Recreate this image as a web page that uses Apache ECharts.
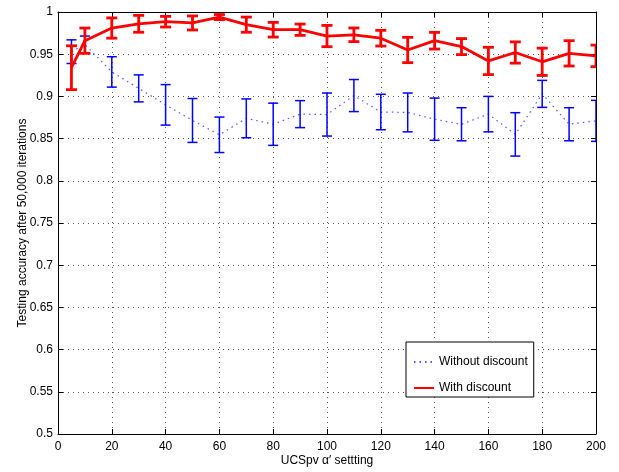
<!DOCTYPE html>
<html>
<head>
<meta charset="utf-8">
<script src="https://cdn.jsdelivr.net/npm/echarts@6/dist/echarts.min.js"></script>
<style>
  html, body { margin: 0; padding: 0; background: #fff; }
  #chart { width: 619px; height: 472px; }
</style>
</head>
<body>
<div id="chart"></div>
<script>
// UCSpv alpha' settings tested
const alphaSetting = [5, 10, 20, 30, 40, 50, 60, 70, 80, 90, 100, 110, 120, 130, 140, 150, 160, 170, 180, 190, 200];

// Mean testing accuracy and error half-widths, with discount
const withDiscount = [0.934, 0.966, 0.981, 0.986, 0.9885, 0.987, 0.994, 0.985, 0.979, 0.979, 0.9715, 0.973, 0.969, 0.955, 0.966, 0.959, 0.942, 0.952, 0.941, 0.951, 0.948];
const withDiscountErr = [0.026, 0.015, 0.012, 0.010, 0.0063, 0.0083, 0.003, 0.009, 0.0087, 0.0067, 0.0126, 0.0081, 0.0093, 0.015, 0.0099, 0.0095, 0.0162, 0.0126, 0.0162, 0.015, 0.0128];

// Mean testing accuracy and error half-widths, without discount
const withoutDiscount = [0.953, 0.9615, 0.929, 0.9095, 0.890, 0.8715, 0.8545, 0.874, 0.867, 0.879, 0.8785, 0.901, 0.8815, 0.881, 0.873, 0.867, 0.879, 0.855, 0.903, 0.867, 0.871];
const withoutDiscountErr = [0.014, 0.010, 0.018, 0.016, 0.024, 0.026, 0.021, 0.023, 0.025, 0.016, 0.0255, 0.019, 0.021, 0.023, 0.025, 0.0196, 0.021, 0.0257, 0.016, 0.0196, 0.0243];

const xTicks = { min: 0, max: 200, interval: 20 };
const yTicks = { min: 0.5, max: 1, interval: 0.05 };

const FONT = 'Liberation Sans, Arial, Helvetica, sans-serif';

const points = (means) => alphaSetting.map((x, i) => [x, means[i]]);
const ranges = (means, errs) => alphaSetting.map((x, i) => [x, means[i] - errs[i], means[i] + errs[i]]);

function errorBarRenderer(color, width, capHalf) {
  return function (params, api) {
    const x = api.value(0);
    const lo = api.coord([x, api.value(1)]);
    const hi = api.coord([x, api.value(2)]);
    const style = { stroke: color, lineWidth: width, fill: null };
    return {
      type: 'group',
      children: [
        { type: 'line', shape: { x1: lo[0], y1: lo[1], x2: hi[0], y2: hi[1] }, style },
        { type: 'line', shape: { x1: hi[0] - capHalf, y1: hi[1], x2: hi[0] + capHalf, y2: hi[1] }, style },
        { type: 'line', shape: { x1: lo[0] - capHalf, y1: lo[1], x2: lo[0] + capHalf, y2: lo[1] }, style }
      ]
    };
  };
}

const gridLine = { show: true, lineStyle: { color: '#555', type: [1, 4], width: 1 } };
const frameLine = { show: true, onZero: false, lineStyle: { color: '#000', width: 1 } };
const innerTick = { show: true, inside: true, length: 5, lineStyle: { color: '#000' } };
const tickLabel = { color: '#000', fontFamily: FONT, fontSize: 12 };

const chart = echarts.init(document.getElementById('chart'), null, { renderer: 'canvas' });

chart.setOption({
  backgroundColor: '#fff',
  animation: false,
  grid: { left: 58, right: 23, top: 12, bottom: 38, containLabel: false, outerBoundsMode: 'none' },
  legend: {
    data: ['Without discount', 'With discount'],
    orient: 'vertical',
    left: 406,
    top: 342,
    itemWidth: 20,
    itemHeight: 14,
    itemGap: 14,
    padding: [14, 6, 3, 7],
    borderColor: '#000',
    borderWidth: 1,
    backgroundColor: '#fff',
    // line samples only, no marker on top of them
    itemStyle: { opacity: 0 },
    textStyle: { color: '#000', fontFamily: FONT, fontSize: 12 }
  },
  xAxis: [
    {
      type: 'value', position: 'bottom', ...xTicks,
      axisLine: frameLine, axisTick: innerTick, splitLine: gridLine,
      axisLabel: { ...tickLabel, margin: 7 },
      name: 'UCSpv \u03b1\u2032 settting', nameLocation: 'middle', nameGap: 21,
      nameMoveOverlap: false,
      nameTextStyle: { color: '#000', fontFamily: FONT, fontSize: 12 }
    },
    {
      type: 'value', position: 'top', ...xTicks,
      axisLine: frameLine, axisTick: innerTick, splitLine: { show: false },
      axisLabel: { show: false }
    }
  ],
  yAxis: [
    {
      type: 'value', position: 'left', ...yTicks,
      axisLine: frameLine, axisTick: innerTick, splitLine: gridLine,
      axisLabel: { ...tickLabel, margin: 5, formatter: (v) => String(+v.toFixed(2)) },
      name: 'Testing accuracy after 50,000 iterations', nameLocation: 'middle', nameGap: 29,
      nameMoveOverlap: false,
      nameTextStyle: { color: '#000', fontFamily: FONT, fontSize: 12 }
    },
    {
      type: 'value', position: 'right', ...yTicks,
      axisLine: frameLine, axisTick: innerTick, splitLine: { show: false },
      axisLabel: { show: false }
    }
  ],
  series: [
    {
      name: 'Without discount',
      type: 'line',
      data: points(withoutDiscount),
      showSymbol: false,
      symbol: 'none',
      color: '#5555ff',
      lineStyle: { color: '#5555ff', width: 1.2, type: [1.5, 4] },
      z: 2
    },
    {
      name: 'Without discount bars',
      type: 'custom',
      clip: true,
      data: ranges(withoutDiscount, withoutDiscountErr),
      encode: { x: 0, y: [1, 2] },
      renderItem: errorBarRenderer('#0000ff', 1.5, 5),
      z: 3
    },
    {
      name: 'With discount',
      type: 'line',
      data: points(withDiscount),
      showSymbol: false,
      symbol: 'none',
      color: '#ff0000',
      lineStyle: { color: '#ff0000', width: 2.8 },
      z: 4
    },
    {
      name: 'With discount bars',
      type: 'custom',
      clip: true,
      data: ranges(withDiscount, withDiscountErr),
      encode: { x: 0, y: [1, 2] },
      renderItem: errorBarRenderer('#ff0000', 2.8, 5.5),
      z: 5
    }
  ]
});
</script>
</body>
</html>
